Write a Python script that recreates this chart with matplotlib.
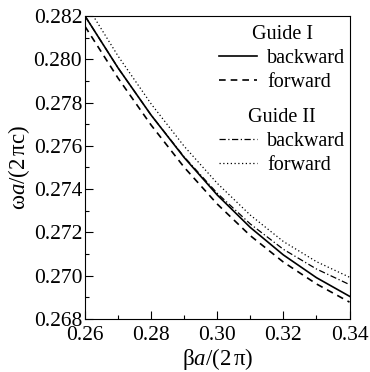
import matplotlib
matplotlib.use('Agg')
import matplotlib.pyplot as plt

plt.rcParams['font.family'] = 'Liberation Serif'
plt.rcParams['mathtext.fontset'] = 'custom'
plt.rcParams['mathtext.rm'] = 'Liberation Serif'
plt.rcParams['mathtext.it'] = 'Liberation Serif:italic'

# values
beta = [0.26, 0.27, 0.28, 0.29, 0.30, 0.31, 0.32, 0.33, 0.34]
guide1_back = [0.28200, 0.27960, 0.27742, 0.27546, 0.27373, 0.27223, 0.27096, 0.26991, 0.26905]
guide1_fwd = [0.28152, 0.27913, 0.27696, 0.27501, 0.27331, 0.27185, 0.27063, 0.26962, 0.26878]
guide2_back = [0.28200, 0.27960, 0.27742, 0.27549, 0.27381, 0.27239, 0.27122, 0.27031, 0.26959]
guide2_fwd = [0.28262, 0.28015, 0.27794, 0.27598, 0.27427, 0.27280, 0.27158, 0.27065, 0.26993]

xticks = [0.26, 0.28, 0.30, 0.32, 0.34]
yticks = [0.268, 0.270, 0.272, 0.274, 0.276, 0.278, 0.280, 0.282]

fig = plt.figure(figsize=(3.70, 3.72), dpi=100)
ax = fig.add_axes([0.2297, 0.1425, 0.7149, 0.8145])

l1, = ax.plot(beta, guide1_back, color='k', lw=1.2, ls='-')
l2, = ax.plot(beta, guide1_fwd, color='k', lw=1.2, ls=(0, (4, 3)))
l3, = ax.plot(beta, guide2_back, color='k', lw=0.9, ls=(0, (5, 2, 1, 2)))
l4, = ax.plot(beta, guide2_fwd, color='k', lw=0.9, ls=(0, (1, 2)))

ax.set_xlim(0.26, 0.34)
ax.set_ylim(0.268, 0.282)
ax.set_xticks(xticks)
ax.set_xticklabels(['%.2f' % v for v in xticks])
ax.set_yticks(yticks)
ax.set_yticklabels(['%.3f' % v for v in yticks])
ax.set_xticks([0.27, 0.29, 0.31, 0.33], minor=True)
ax.set_yticks([0.269, 0.271, 0.273, 0.275, 0.277, 0.279, 0.281], minor=True)
ax.tick_params(which='both', direction='in', labelsize=15.5, width=0.8)
ax.tick_params(which='major', length=6)
ax.tick_params(which='minor', length=3)
ax.tick_params(axis='x', pad=5)
ax.tick_params(axis='y', pad=2)
for s in ax.spines.values():
    s.set_linewidth(0.8)

ax.set_xlabel(r'$\mathrm{\beta}\mathit{a}\mathrm{/(2\,\pi)}$', fontsize=16.5, labelpad=1)
ax.set_ylabel(r'$\mathrm{\omega}\mathit{a}\mathrm{/(2\,\pi c)}$', fontsize=16.5, labelpad=1)

leg1 = ax.legend([l1, l2], ['backward', 'forward'], title='Guide I', loc='upper right',
                 bbox_to_anchor=(1.0, 0.985), frameon=False, fontsize=14.5, title_fontsize=14.5,
                 handlelength=1.9, handletextpad=0.5, labelspacing=0.25,
                 borderaxespad=0.0, borderpad=0.2)
ax.add_artist(leg1)
ax.legend([l3, l4], ['backward', 'forward'], title='Guide II', loc='upper right',
          bbox_to_anchor=(1.0, 0.71), frameon=False, fontsize=14.5, title_fontsize=14.5,
          handlelength=1.9, handletextpad=0.5, labelspacing=0.25,
          borderaxespad=0.0, borderpad=0.2)

fig.savefig('out.png', dpi=100)
